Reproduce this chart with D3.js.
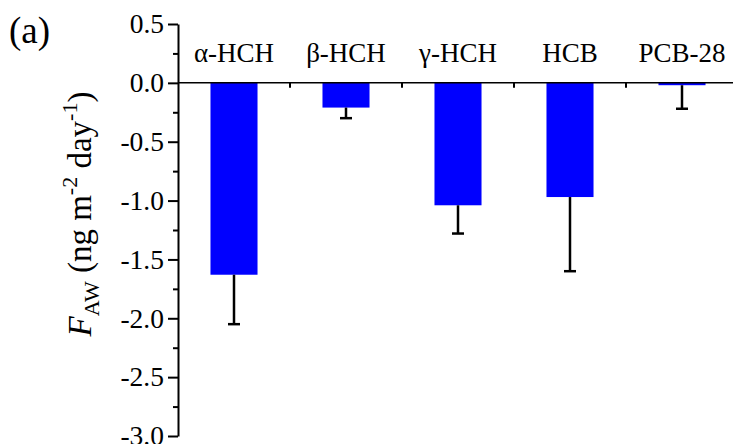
<!DOCTYPE html>
<html>
<head>
<meta charset="utf-8">
<script src="https://cdn.jsdelivr.net/npm/d3@7/dist/d3.min.js"></script>
<style>
  body { margin: 0; background: #fff; }
  svg { display: block; }
  text { font-family: "Liberation Serif", "Times New Roman", serif; fill: #000; }
</style>
</head>
<body>
<div id="chart"></div>
<script>
// data
var categories = ["α-HCH", "β-HCH", "γ-HCH", "HCB", "PCB-28"];
var fluxValues = [-1.63, -0.21, -1.04, -0.97, -0.02];
var fluxErrors = [0.42, 0.09, 0.24, 0.63, 0.20];
var yTicks = [0.5, 0.0, -0.5, -1.0, -1.5, -2.0, -2.5, -3.0];
var yMinorTicks = [0.25, -0.25, -0.75, -1.25, -1.75, -2.25, -2.75];

var W = 733, H = 444;
var serif = "'Liberation Serif', 'Times New Roman', serif";

var svg = d3.select("#chart")
    .append("svg")
    .attr("width", W)
    .attr("height", H);

var x = d3.scaleBand()
    .domain(categories)
    .range([178, 738])
    .paddingInner(0.58)
    .paddingOuter(0.29);

var y = d3.scaleLinear()
    .domain([-3, 0.5])
    .range([436, 24]);

var fmt = function(d){ return d3.format(".1f")(d).replace("−", "-"); };

// minor ticks
svg.append("g")
    .attr("transform", "translate(" + x.range()[0] + ",0)")
    .call(d3.axisLeft(y).tickValues(yMinorTicks).tickSize(5).tickFormat(""))
    .call(function(g){ g.select(".domain").remove(); })
    .selectAll("line").attr("stroke-width", 2);

// major ticks + axis line
var yAxis = svg.append("g")
    .attr("transform", "translate(" + x.range()[0] + ",0)")
    .call(d3.axisLeft(y).tickValues(yTicks).tickSize(10).tickSizeOuter(0).tickPadding(4).tickFormat(fmt))
    .attr("font-family", serif);
yAxis.select(".domain").attr("stroke-width", 2);
yAxis.selectAll("line").attr("stroke-width", 2);
yAxis.selectAll("text")
    .attr("font-family", serif)
    .style("font-size", "27.5px")
    .attr("fill", "#000");

// bars
svg.selectAll(".bar")
    .data(categories)
    .enter()
    .append("rect")
    .attr("class", "bar")
    .attr("x", function(d){ return x(d); })
    .attr("width", x.bandwidth())
    .attr("y", function(d, i){ return y(Math.max(0, fluxValues[i])); })
    .attr("height", function(d, i){ return Math.abs(y(fluxValues[i]) - y(0)); })
    .style("fill", "#0000ff");

// error bars
var err = svg.selectAll(".err")
    .data(categories)
    .enter()
    .append("g")
    .attr("class", "err");

err.append("line")
    .attr("x1", function(d){ return x(d) + x.bandwidth()/2; })
    .attr("x2", function(d){ return x(d) + x.bandwidth()/2; })
    .attr("y1", function(d, i){ return y(fluxValues[i]); })
    .attr("y2", function(d, i){ return y(fluxValues[i] - fluxErrors[i]); })
    .style("stroke", "#000")
    .style("stroke-width", "2.5px");

err.append("line")
    .attr("x1", function(d){ return x(d) + x.bandwidth()/2 - 6; })
    .attr("x2", function(d){ return x(d) + x.bandwidth()/2 + 6; })
    .attr("y1", function(d, i){ return y(fluxValues[i] - fluxErrors[i]); })
    .attr("y2", function(d, i){ return y(fluxValues[i] - fluxErrors[i]); })
    .style("stroke", "#000")
    .style("stroke-width", "2.5px");

// zero line with small ticks between categories
svg.append("line")
    .attr("x1", x.range()[0])
    .attr("x2", W)
    .attr("y1", y(0))
    .attr("y2", y(0))
    .style("stroke", "#000")
    .style("stroke-width", "1.5px");

svg.selectAll(".sep")
    .data(categories.slice(1))
    .enter()
    .append("line")
    .attr("class", "sep")
    .attr("x1", function(d){ return x(d) - x.step()*x.paddingInner()/2; })
    .attr("x2", function(d){ return x(d) - x.step()*x.paddingInner()/2; })
    .attr("y1", y(0))
    .attr("y2", y(0) + 5)
    .style("stroke", "#000")
    .style("stroke-width", "2px");

// category labels above the zero line
svg.selectAll(".cat")
    .data(categories)
    .enter()
    .append("text")
    .attr("class", "cat")
    .attr("x", function(d){ return x(d) + x.bandwidth()/2; })
    .attr("y", 62)
    .attr("text-anchor", "middle")
    .style("font-size", "27px")
    .text(function(d){ return d; });

// panel letter
svg.append("text")
    .attr("x", 9)
    .attr("y", 43)
    .style("font-size", "37px")
    .text("(a)");

// y title
var yt = svg.append("text")
    .attr("transform", "translate(91,214) rotate(-90)")
    .attr("text-anchor", "middle")
    .style("font-size", "33px");
yt.append("tspan").style("font-style", "italic").text("F");
yt.append("tspan").attr("dy", 8).style("font-size", "22px").text("AW");
yt.append("tspan").attr("dy", -8).text(" (ng m");
yt.append("tspan").attr("dy", -14).style("font-size", "22px").text("-2");
yt.append("tspan").attr("dy", 14).text(" day");
yt.append("tspan").attr("dy", -14).style("font-size", "22px").text("-1");
yt.append("tspan").attr("dy", 14).text(")");
</script>
</body>
</html>
